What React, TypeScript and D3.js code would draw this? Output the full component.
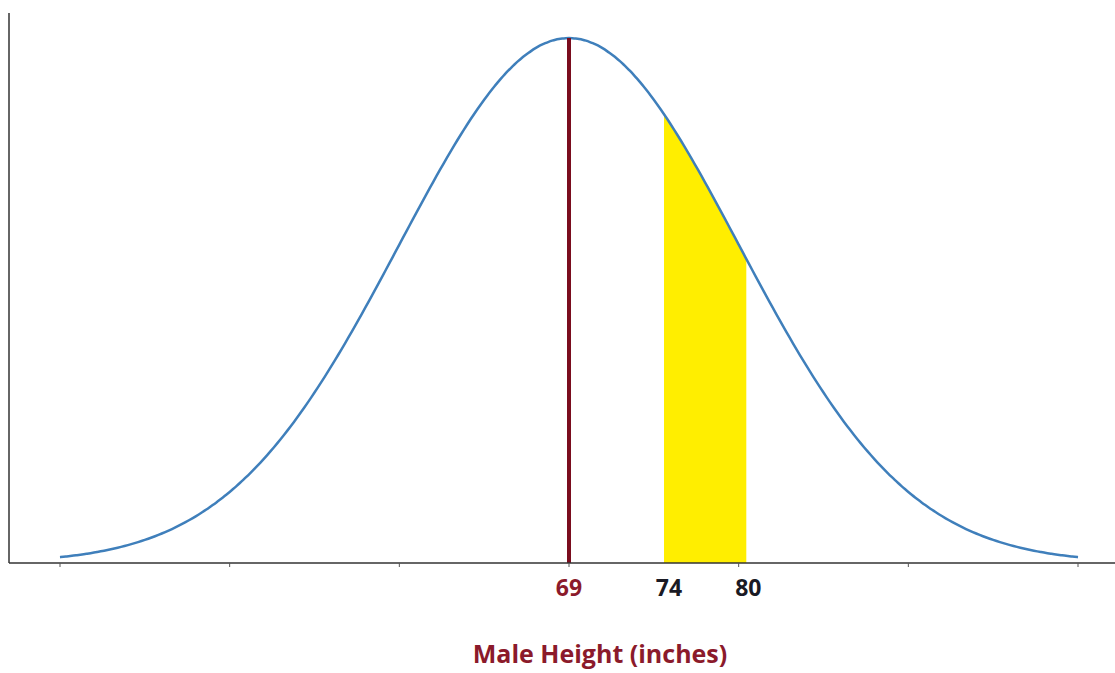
import React from "react";
import * as d3 from "d3";

// Data (z = standard deviations from the mean)
const zTicks = [-3, -2, -1, 0, 1, 2, 3];
const heightLabels = [69, 74, 80];
const labelZ = [0, 0.56, 1.045];
const meanHeight = 69;
const shadeFrom = 74;
const shadeTo = 80;
const axisTitle = "Male Height (inches)";

const W = 1115;
const H = 673;

const pdf = (z: number) => Math.exp(-0.5 * z * z) / Math.sqrt(2 * Math.PI);

export default function App() {
  const x = d3.scaleLinear().domain([-3, 3]).range([60, 1078]);
  const y = d3.scaleLinear().domain([0, pdf(0)]).range([563, 38]);
  const hToZ = d3.scaleLinear().domain(heightLabels).range(labelZ);

  const curvePts = d3.range(-3, 3.0001, 0.02).map((z) => [z, pdf(z)] as [number, number]);
  const line = d3
    .line<[number, number]>()
    .x((d) => x(d[0]))
    .y((d) => y(d[1]))
    .curve(d3.curveBasis);

  const z1 = hToZ(shadeFrom);
  const z2 = hToZ(shadeTo);
  const areaPts = d3.range(z1, z2 + 0.0001, (z2 - z1) / 60).map((z) => [z, pdf(z)] as [number, number]);
  const area = d3
    .area<[number, number]>()
    .x((d) => x(d[0]))
    .y0(y(0))
    .y1((d) => y(d[1]));

  const zm = hToZ(meanHeight);
  const font = "'Open Sans', 'Noto Sans', sans-serif";
  const labelDx = (h: number) => (h === meanHeight ? 0 : h === shadeFrom ? 5 : 2);

  return (
    <svg
      width={W}
      height={H}
      style={{ position: "absolute", left: 0, top: 0, background: "#fff" }}
    >
      <path d={area(areaPts) || ""} fill="#ffee00" />
      <path d={line(curvePts) || ""} fill="none" stroke="#3f7fbb" strokeWidth={2.5} />
      <line x1={x(zm)} x2={x(zm)} y1={y(pdf(zm))} y2={y(0)} stroke="#7a0d1e" strokeWidth={4} />
      {/* axes */}
      <line x1={9} x2={9} y1={13} y2={y(0)} stroke="#333" strokeWidth={1.5} />
      <line x1={9} x2={W} y1={y(0)} y2={y(0)} stroke="#333" strokeWidth={1.5} />
      {zTicks.map((t) => (
        <line key={t} x1={x(t)} x2={x(t)} y1={y(0)} y2={y(0) + 4} stroke="#555" strokeWidth={1} />
      ))}
      {heightLabels.map((h) => (
        <text
          key={h}
          x={x(hToZ(h))}
          dx={labelDx(h)}
          y={596}
          textAnchor="middle"
          fontFamily={font}
          fontWeight={700}
          fontSize={23}
          fill={h === meanHeight ? "#8b1a2b" : "#1a1a24"}
        >
          {h}
        </text>
      ))}
      <text
        x={600}
        y={663}
        textAnchor="middle"
        fontFamily={font}
        fontWeight={700}
        fontSize={25}
        fill="#8b1a2b"
      >
        {axisTitle}
      </text>
    </svg>
  );
}
